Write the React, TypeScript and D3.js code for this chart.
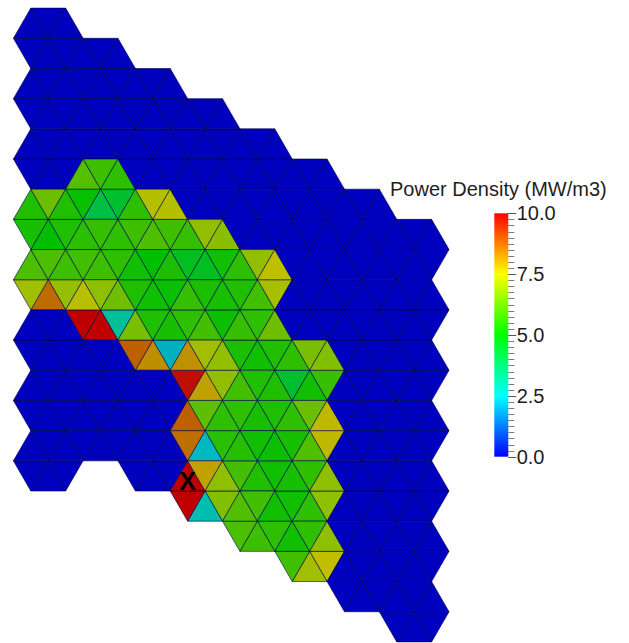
import React from 'react';
import * as d3 from 'd3';

const WIDTH = 629;
const HEIGHT = 643;

// Number of assemblies in each column of the hexagonal core grid
const columnSizes = [8, 7, 7, 7, 7, 7, 7, 7];

// Fuelled assemblies as [column, row]
const fuelCells: [number, number][] = [
  [1, 2], [0, 3], [2, 2], [1, 3], [3, 2], [0, 4], [2, 3], [4, 2],
  [1, 4], [3, 3], [2, 4], [4, 3], [3, 4], [5, 3], [4, 4], [3, 5],
  [5, 4], [4, 5], [3, 6], [5, 5], [4, 6], [5, 6],
];

// Power density of the six triangular sectors of each fuelled assembly (MW/m3),
// ordered lower-right, bottom, lower-left, upper-left, top, upper-right
const fuelPower: number[][] = [
  [4.4, 4.1, 5.1, 6.1, 5.8, 5.6],
  [5.4, 5.0, 5.3, 5.4, 6.4, 5.4],
  [5.8, 6.0, 5.8, 5.6, 7.35, 7.35],
  [5.6, 5.8, 5.85, 5.55, 5.7, 5.6],
  [5.2, 4.6, 4.6, 5.7, 6.9, 6.8],
  [6.95, 8.6, 7.1, 6.0, 6.0, 5.8],
  [5.1, 5.2, 5.4, 5.2, 5.0, 5.35],
  [7.2, 5.85, 5.4, 5.6, 6.9, 7.5],
  [3.0, 10.0, 10.0, 7.4, 6.85, 6.45],
  [5.15, 5.85, 5.6, 5.7, 5.35, 5.3],
  [2.3, 8.15, 8.75, 6.55, 5.4, 5.3],
  [5.4, 5.2, 5.35, 5.7, 5.6, 6.45],
  [6.9, 7.9, 9.8, 8.1, 7.1, 6.9],
  [5.7, 5.2, 4.4, 5.6, 6.55, 6.7],
  [5.4, 5.3, 5.6, 5.85, 5.4, 5.4],
  [5.55, 2.4, 8.55, 8.75, 6.2, 5.6],
  [7.6, 6.05, 5.3, 5.6, 6.4, 7.6],
  [5.2, 5.4, 5.85, 5.5, 5.2, 5.15],
  [6.7, 2.7, 10.0, 10.0, 7.9, 6.85],
  [6.85, 5.6, 5.2, 5.3, 5.6, 6.85],
  [5.6, 5.8, 5.95, 6.05, 5.85, 5.2],
  [7.5, 7.1, 5.85, 5.2, 5.6, 6.85],
];

// Marked sector: [column, row, sector]
const markerCell = [3, 6, 3];

// Colour bar
const colorbarTitle = 'Power Density (MW/m3)';
const colorbarDomain = [0, 10];
const colorbarTicks = [0, 2.5, 5, 7.5, 10];
const colorbarMinorStep = 0.25;

// Geometry
const SIDE = 34.85;
const HALF_H = (SIDE * Math.sqrt(3)) / 2;
const LEFT = 13.4;
const TOP = 8.1;

const xScale = d3.scaleLinear().domain([0, 1]).range([LEFT + SIDE, LEFT + SIDE + 1.5 * SIDE]);
const yScale = d3.scaleLinear().domain([0, 1]).range([TOP, TOP + HALF_H]);
const hueScale = d3.scaleLinear().domain(colorbarDomain).range([240, 0]).clamp(true);

const shadedColor = (v: number) => d3.hsl(hueScale(v), 1, 0.375).formatHex();
const pureColor = (v: number) => d3.hsl(hueScale(v), 1, 0.5).formatHex();

const hexCenter = (c: number, r: number): [number, number] => [xScale(c), yScale(1 + 2 * r + c)];

const vertex = (cx: number, cy: number, i: number): [number, number] => {
  const a = (Math.PI / 3) * (i % 6);
  return [cx + SIDE * Math.cos(a), cy + SIDE * Math.sin(a)];
};

const line = d3.line();

type Tri = { key: string; d: string; fill: string };

function buildTriangles(): Tri[] {
  const powerLookup = new Map<string, number[]>();
  fuelCells.forEach(([c, r], i) => powerLookup.set(`${c},${r}`, fuelPower[i]));
  const tris: Tri[] = [];
  columnSizes.forEach((n, c) => {
    for (let r = 0; r < n; r++) {
      const [cx, cy] = hexCenter(c, r);
      const p = powerLookup.get(`${c},${r}`) ?? [0, 0, 0, 0, 0, 0];
      for (let i = 0; i < 6; i++) {
        const pts: [number, number][] = [[cx, cy], vertex(cx, cy, i), vertex(cx, cy, i + 1)];
        tris.push({ key: `${c}-${r}-${i}`, d: line(pts)! + 'Z', fill: shadedColor(p[i]) });
      }
    }
  });
  return tris;
}

export default function App() {
  const tris = buildTriangles();

  const [mc, mr, ms] = markerCell;
  const [mcx, mcy] = hexCenter(mc, mr);
  const mv1 = vertex(mcx, mcy, ms);
  const mv2 = vertex(mcx, mcy, ms + 1);
  const markX = (mcx + mv1[0] + mv2[0]) / 3;
  const markY = (mcy + mv1[1] + mv2[1]) / 3;

  const barX = 494.3;
  const barW = 14;
  const barScale = d3.scaleLinear().domain(colorbarDomain).range([456.7, 213.3]);
  const minorTicks = d3.range(colorbarDomain[0], colorbarDomain[1] + 1e-9, colorbarMinorStep);
  const gradStops = d3.range(0, 10.0001, 0.5);

  const font = "'Liberation Sans', Arial, sans-serif";

  return (
    <svg
      width={WIDTH}
      height={HEIGHT}
      style={{ position: 'absolute', left: 0, top: 0, display: 'block', background: '#fff' }}
    >
      <defs>
        <linearGradient id="pd-grad" x1="0" y1="1" x2="0" y2="0">
          {gradStops.map((v) => (
            <stop key={v} offset={`${(v / 10) * 100}%`} stopColor={pureColor(v)} />
          ))}
        </linearGradient>
      </defs>

      <g>
        {tris.map((t) => (
          <path
            key={t.key}
            d={t.d}
            fill={t.fill}
            stroke="#00004a"
            strokeOpacity={0.75}
            strokeWidth={0.8}
            strokeLinejoin="round"
          />
        ))}
      </g>

      <text
        x={markX}
        y={markY + 9}
        textAnchor="middle"
        fontFamily={font}
        fontWeight="bold"
        fontSize={25}
        fill="#000"
      >
        X
      </text>

      <text x={390} y={196} fontFamily={font} fontSize={20} fill="#1e1e1e">
        {colorbarTitle}
      </text>
      <rect
        x={barX}
        y={barScale(colorbarDomain[1])}
        width={barW}
        height={barScale(colorbarDomain[0]) - barScale(colorbarDomain[1])}
        fill="url(#pd-grad)"
      />
      {minorTicks.map((v) => (
        <line
          key={v}
          x1={barX + barW}
          x2={barX + barW + 6}
          y1={Math.round(barScale(v)) + 0.5}
          y2={Math.round(barScale(v)) + 0.5}
          stroke="#7a7a7a"
          strokeWidth={1}
        />
      ))}
      {colorbarTicks.map((v) => (
        <g key={v}>
          <line
            x1={barX + barW}
            x2={barX + barW + 8}
            y1={Math.round(barScale(v)) + 0.5}
            y2={Math.round(barScale(v)) + 0.5}
            stroke="#555"
            strokeWidth={1}
          />
          <text
            x={516.7}
            y={barScale(v) + 6.8}
            fontFamily={font}
            fontSize={20}
            fill="#1e1e1e"
          >
            {v.toFixed(1)}
          </text>
        </g>
      ))}
    </svg>
  );
}
